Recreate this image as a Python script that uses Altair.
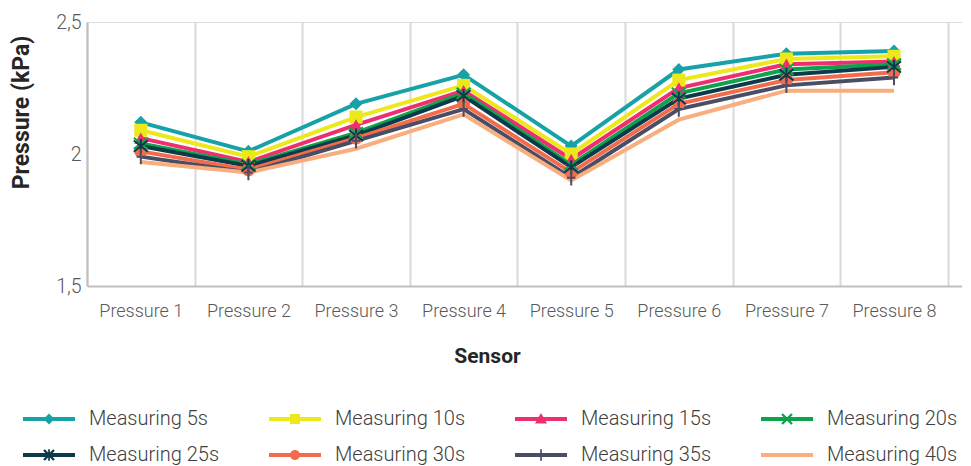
import altair as alt
import pandas as pd

# ---------------- data ----------------
sensors = ["Pressure 1", "Pressure 2", "Pressure 3", "Pressure 4",
           "Pressure 5", "Pressure 6", "Pressure 7", "Pressure 8"]

series_names = ["Measuring 5s", "Measuring 10s", "Measuring 15s", "Measuring 20s",
                "Measuring 25s", "Measuring 30s", "Measuring 35s", "Measuring 40s"]

m5 = [2.12, 2.01, 2.19, 2.30, 2.03, 2.32, 2.38, 2.39]
m10 = [2.09, 1.99, 2.14, 2.26, 2.00, 2.28, 2.36, 2.37]
m15 = [2.06, 1.97, 2.11, 2.24, 1.98, 2.25, 2.34, 2.35]
m20 = [2.04, 1.96, 2.08, 2.23, 1.96, 2.23, 2.32, 2.34]
m25 = [2.03, 1.955, 2.07, 2.22, 1.95, 2.21, 2.30, 2.33]
m30 = [2.01, 1.94, 2.06, 2.19, 1.93, 2.19, 2.28, 2.31]
m35 = [1.99, 1.93, 2.05, 2.17, 1.91, 2.17, 2.26, 2.29]
m40 = [1.97, 1.93, 2.02, 2.15, 1.90, 2.13, 2.24, 2.24]

series_values = [m5, m10, m15, m20, m25, m30, m35, m40]

colors = ["#17A2A8", "#EDE81A", "#EE2F6F", "#0DA24C",
          "#0B3A4B", "#F26B4A", "#4A4E65", "#F8AE7E"]

# ---------------- marker shapes ----------------
X_PATH = "M-1,-0.8L1,0.8M-1,0.8L1,-0.8"
AST_PATH = "M-1,-0.8L1,0.8M-1,0.8L1,-0.8M0,-1L0,1"
PLUS_PATH = "M0,-1.1L0,1.1M-0.6,0L0.6,0"
plot_shapes = ["diamond", "square", "triangle-up", X_PATH,
               AST_PATH, "circle", PLUS_PATH, "circle"]

filled_series = ["Measuring 5s", "Measuring 10s", "Measuring 15s", "Measuring 30s"]
stroked_series = ["Measuring 20s", "Measuring 25s", "Measuring 35s"]

# legend symbols: line segment + marker (filled paths, unit = 5px)
BAR = "M-5.2,-0.4H5.2V0.4H-5.2Z"
a = 0.17
XD1 = f"M{-1+a},{-1-a}L{1+a},{1-a}L{1-a},{1+a}L{-1-a},{-1+a}Z"
XD2 = f"M{1+a},{-1+a}L{-1+a},{1+a}L{-1-a},{1-a}L{1-a},{-1-a}Z"
VBAR = "M-0.17,-1.15H0.17V1.15H-0.17Z"
legend_shapes = [
    BAR + "M0,-1.1L1.1,0L0,1.1L-1.1,0Z",
    BAR + "M-1,-1H1V1H-1Z",
    BAR + "M0,-1.2L1.2,0.9H-1.2Z",
    BAR + XD1 + XD2,
    BAR + XD1 + XD2 + VBAR,
    BAR + "M-1,0A1,1,0,1,1,1,0A1,1,0,1,1,-1,0Z",
    BAR + VBAR,
    BAR,
]

rows = []
for name, vals in zip(series_names, series_values):
    for s, v in zip(sensors, vals):
        rows.append({"sensor": s, "series": name, "value": v})
df = pd.DataFrame(rows)

FONT = "Roboto"

x_enc = alt.X(
    "sensor:N",
    sort=sensors,
    scale=alt.Scale(domain=sensors, paddingInner=0, paddingOuter=0.066, align=0),
    axis=alt.Axis(
        title="Sensor", tickBand="extent", grid=True, gridColor="#D9D9D9", gridWidth=2,
        ticks=False, tickSize=0, domainColor="#BFBFBF", domainWidth=2,
        labelAngle=0, labelFont=FONT, labelFontSize=18, labelFontWeight=300,
        labelColor="#595959", labelPadding=16,
        titleFont=FONT, titleFontSize=21, titleFontWeight="bold",
        titleColor="#262626", titlePadding=25, titleX=400,
    ),
)
y_enc = alt.Y(
    "value:Q",
    scale=alt.Scale(domain=[1.5, 2.5], zero=False, nice=False),
    axis=alt.Axis(
        title="Pressure (kPa)", values=[1.5, 2, 2.5], format="~g",
        labelExpr="replace(datum.label, '.', ',')",
        grid=False, ticks=False, tickSize=0, domainColor="#BFBFBF", domainWidth=2,
        labelFont=FONT, labelFontSize=19.5, labelFontWeight=300, labelColor="#595959",
        labelPadding=6, titleFont=FONT, titleFontSize=23, titleFontWeight="bold",
        titleColor="#262626", titlePadding=22, titleY=90,
    ),
)

color_plot = alt.Color("series:N", scale=alt.Scale(domain=series_names, range=colors), legend=None)
shape_plot = alt.Shape("series:N", scale=alt.Scale(domain=series_names, range=plot_shapes), legend=None)

lines = alt.Chart().mark_line(strokeWidth=4).encode(
    x=x_enc, y=y_enc, color=color_plot, detail="series:N"
)
pts_filled = alt.Chart().transform_filter(
    alt.FieldOneOfPredicate(field="series", oneOf=filled_series)
).mark_point(filled=True, size=170, opacity=1).encode(
    x=x_enc, y=y_enc, color=color_plot, shape=shape_plot
)
pts_stroked = alt.Chart().transform_filter(
    alt.FieldOneOfPredicate(field="series", oneOf=stroked_series)
).mark_point(filled=False, size=196, opacity=1, strokeWidth=2).encode(
    x=x_enc, y=y_enc, color=color_plot, shape=shape_plot
)

inner = alt.layer(lines, pts_filled, pts_stroked)

legend = alt.Legend(
    title=None, orient="none", legendX=-48, legendY=387, columns=4,
    direction="horizontal", symbolSize=100, symbolStrokeWidth=0, symbolOpacity=1,
    labelOffset=30, labelFont=FONT, labelFontSize=20, labelFontWeight=300,
    labelColor="#404040", columnPadding=49, rowPadding=16, padding=0,
    gridAlign="each", labelLimit=400,
)

legend_layer = alt.Chart().transform_filter("false").mark_point(
    filled=True, size=100, opacity=1
).encode(
    x=x_enc, y=y_enc,
    color=alt.Color("series:N", scale=alt.Scale(domain=series_names, range=colors), legend=legend),
    shape=alt.Shape("series:N", scale=alt.Scale(domain=series_names, range=legend_shapes), legend=legend),
)

chart = alt.layer(inner, legend_layer, data=df).resolve_scale(
    color="independent", shape="independent"
).properties(
    width=875, height=264,
    padding={"left": 2, "top": 4, "right": 0, "bottom": 0},
).configure_view(stroke=None).configure(background="white")

chart.save("out.html", embed_options={"renderer": "svg", "actions": False})
